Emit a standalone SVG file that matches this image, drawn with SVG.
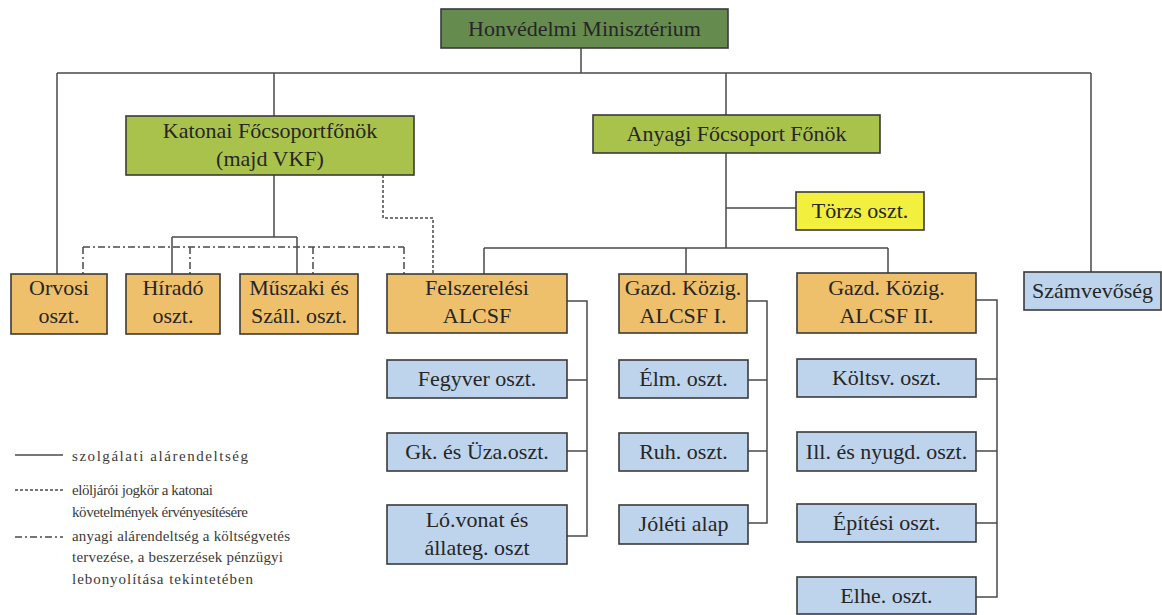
<svg xmlns="http://www.w3.org/2000/svg" width="1162" height="615" viewBox="0 0 1162 615">
<style>
  .box{stroke:#3a3a3a;stroke-width:1.6}
  .hm{fill:#668b4f}
  .lg{fill:#a9c24c}
  .yl{fill:#f2ef3e}
  .or{fill:#efc06c}
  .bl{fill:#bed4ec}
  .t{font-family:'Liberation Serif','DejaVu Serif',serif;font-size:22px;fill:#262626;text-anchor:middle}
  .lgt{font-family:'Liberation Serif','DejaVu Serif',serif;font-size:15px;fill:#3a3a3a}
  .c{fill:none;stroke:#4a4a4a;stroke-width:1.5}
  .dot{stroke-dasharray:3 2}
  .dd{stroke-dasharray:7 3 2 3}
</style>
<rect width="1162" height="615" fill="#ffffff"/>
<g id="connectors">
  <path class="c" d="M581,48 V73 M57,73 H1091 M57,73 V274 M274,73 V116 M726,73 V115 M1091,73 V272"/>
  <path class="c" d="M274,175 V237 M172,237 H297 M172,237 V274 M297,237 V274"/>
  <path class="c" d="M726,153 V248 M726,208 H796 M484,248 H888 M484,248 V274 M686,248 V274 M888,248 V274"/>
  <path class="c" d="M567,301 H587 V536 H567 M567,380 H587 M567,451 H587"/>
  <path class="c" d="M747,301 H767 V523 H748 M748,380 H767 M748,451 H767"/>
  <path class="c" d="M976,300 H997 V597 H976 M976,379 H997 M976,451 H997 M976,523 H997"/>
  <path class="c dot" d="M383,175 V218 H433 V274"/>
  <path class="c dd" d="M83,247 H404 M83,247 V274 M190,247 V274 M313,247 V274 M404,247 V274"/>
</g>
<g id="n-hm"><rect class="box hm" x="441" y="9" width="287" height="39"/><text class="t" x="584.5" y="36" font-family="Liberation Serif, serif">Honvédelmi Minisztérium</text></g>
<g id="n-katonai"><rect class="box lg" x="126" y="116" width="288" height="59"/><text class="t" x="270" y="138">Katonai Főcsoportfőnök</text><text class="t" x="270" y="166">(majd VKF)</text></g>
<g id="n-anyagi"><rect class="box lg" x="593" y="115" width="287" height="38"/><text class="t" x="736.5" y="141">Anyagi Főcsoport Főnök</text></g>
<g id="n-torzs"><rect class="box yl" x="796" y="192" width="128" height="38"/><text class="t" x="860" y="218">Törzs oszt.</text></g>
<g id="n-orvosi"><rect class="box or" x="11" y="274" width="96" height="60"/><text class="t" x="59" y="295">Orvosi</text><text class="t" x="59" y="323">oszt.</text></g>
<g id="n-hirado"><rect class="box or" x="126" y="274" width="94" height="60"/><text class="t" x="173" y="295">Híradó</text><text class="t" x="173" y="323">oszt.</text></g>
<g id="n-muszaki"><rect class="box or" x="240" y="274" width="118" height="60"/><text class="t" x="299" y="295">Műszaki és</text><text class="t" x="299" y="323">Száll. oszt.</text></g>
<g id="n-felsz"><rect class="box or" x="387" y="274" width="180" height="59"/><text class="t" x="477" y="295">Felszerelési</text><text class="t" x="477" y="323">ALCSF</text></g>
<g id="n-gazd1"><rect class="box or" x="619" y="274" width="128" height="59"/><text class="t" x="683" y="295">Gazd. Közig.</text><text class="t" x="683" y="323">ALCSF I.</text></g>
<g id="n-gazd2"><rect class="box or" x="797" y="273" width="179" height="60"/><text class="t" x="886.5" y="295">Gazd. Közig.</text><text class="t" x="886.5" y="323">ALCSF II.</text></g>
<g id="n-szamv"><rect class="box bl" x="1024" y="272" width="137" height="38"/><text class="t" x="1092.5" y="298">Számvevőség</text></g>
<g id="n-fegyver"><rect class="box bl" x="387" y="360" width="180" height="38"/><text class="t" x="477" y="386">Fegyver oszt.</text></g>
<g id="n-gk"><rect class="box bl" x="387" y="433" width="180" height="38"/><text class="t" x="477" y="459">Gk. és Üza.oszt.</text></g>
<g id="n-lo"><rect class="box bl" x="387" y="505" width="180" height="59"/><text class="t" x="477" y="527">Ló.vonat és</text><text class="t" x="477" y="555">állateg. oszt</text></g>
<g id="n-elm"><rect class="box bl" x="619" y="360" width="129" height="38"/><text class="t" x="683.5" y="386">Élm. oszt.</text></g>
<g id="n-ruh"><rect class="box bl" x="619" y="433" width="129" height="38"/><text class="t" x="683.5" y="459">Ruh. oszt.</text></g>
<g id="n-joleti"><rect class="box bl" x="619" y="505" width="129" height="39"/><text class="t" x="683.5" y="531">Jóléti alap</text></g>
<g id="n-koltsv"><rect class="box bl" x="797" y="359" width="179" height="38"/><text class="t" x="886.5" y="385">Költsv. oszt.</text></g>
<g id="n-ill"><rect class="box bl" x="797" y="432" width="179" height="39"/><text class="t" x="886.5" y="459">Ill. és nyugd. oszt.</text></g>
<g id="n-epitesi"><rect class="box bl" x="797" y="504" width="179" height="38"/><text class="t" x="886.5" y="530">Építési oszt.</text></g>
<g id="n-elhe"><rect class="box bl" x="797" y="577" width="179" height="37"/><text class="t" x="886.5" y="603">Elhe. oszt.</text></g>
<g id="legend">
  <path class="c" d="M15,455 H63"/>
  <path class="c dot" stroke-width="1.2" d="M15,490 H63"/>
  <path class="c dd" stroke-width="1.2" d="M15,537 H63"/>
  <text class="lgt" x="72" y="461" textLength="176">szolgálati alárendeltség</text>
  <text class="lgt" x="72" y="495" textLength="141">elöljárói jogkör a katonai</text>
  <text class="lgt" x="72" y="517" textLength="176">követelmények érvényesítésére</text>
  <text class="lgt" x="72" y="541" textLength="218">anyagi alárendeltség a költségvetés</text>
  <text class="lgt" x="72" y="562" textLength="211">tervezése, a beszerzések pénzügyi</text>
  <text class="lgt" x="72" y="584" textLength="181">lebonyolítása tekintetében</text>
</g>
</svg>
